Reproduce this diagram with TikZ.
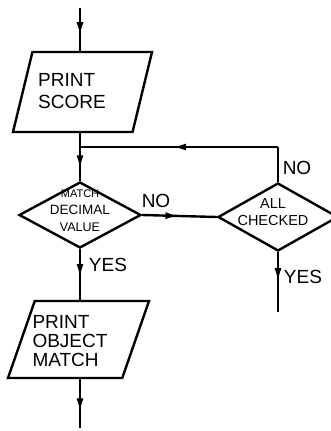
\documentclass[tikz,border=0pt]{standalone}
\usepackage{fontspec}
\setmainfont{Liberation Sans}
\usetikzlibrary{shapes.geometric, arrows.meta, decorations.markings, calc}

\begin{document}
\begin{tikzpicture}[x=1pt, y=-1pt, line width=2.4pt,
        io/.style={draw, trapezium, trapezium stretches=true, inner sep=1pt},
        decision/.style={draw, diamond, inner sep=1pt},
        txt/.style={align=left, inner sep=0pt, font=\fontsize{19}{22}\selectfont},
        small/.style={align=center, inner sep=0pt, font=\fontsize{13.5}{17}\selectfont},
        lbl/.style={inner sep=0pt, font=\fontsize{19}{22}\selectfont},
        flow/.style={postaction={decorate}, decoration={markings,
            mark=at position #1 with {\arrow{Latex[length=14pt,width=7pt]}}}}]
        \useasboundingbox (0,0) rectangle (331,431);

        % boxes
        \node[io, trapezium left angle=79, trapezium right angle=101,
            minimum width=139pt, minimum height=80pt] (score) at (82.5,92) {};
        \node[txt] (score-t) at (72,91) {PRINT\\SCORE};
        \node[decision, minimum width=122pt, minimum height=66pt] (match) at (80,215) {};
        \node[small] (match-t) at (80,211) {{\fontsize{11}{17}\selectfont MATCH}\\DECIMAL\\{\fontsize{12.5}{17}\selectfont VALUE}};
        \node[decision, minimum width=120pt, minimum height=68pt] (check) at (278,217) {};
        \node[small, font=\fontsize{14.5}{17}\selectfont] (check-t) at (273,212) {ALL\\CHECKED};
        \node[io, trapezium left angle=73, trapezium right angle=107,
            minimum width=141pt, minimum height=77pt] (object) at (78.5,339.5) {};
        \node[txt, font=\fontsize{19}{19}\selectfont] (object-t) at (70,341) {PRINT\\OBJECT\\MATCH};

        \coordinate (in) at (80,8);
        \coordinate (join) at (80,147);
        \coordinate (corner) at (278,147);
        \coordinate (out) at (80,428);
        \coordinate (done) at (278,312);

        % flow lines
        \draw[flow=0.66] (in) -- (in |- score.north);
        \draw (join |- score.south) -- (join);
        \draw[flow=0.66] (join) -- (match.north);
        \draw[flow=0.5] (match.east) -- (check.west);
        \draw (check.north) -- (corner);
        \draw[flow=0.535] (corner) -- (join);
        \draw[flow=0.57] (match.south) -- (match.south |- object.north);
        \draw[flow=0.5] (check.south) -- (done);
        \draw[flow=0.68] (object.south -| out) -- (out);

        \node[lbl] (no-1) at (297,168) {NO};
        \node[lbl] (no-2) at (156,201) {NO};
        \node[lbl] (yes-1) at (108,265) {YES};
        \node[lbl] (yes-2) at (303,277) {YES};
\end{tikzpicture}
\end{document}
